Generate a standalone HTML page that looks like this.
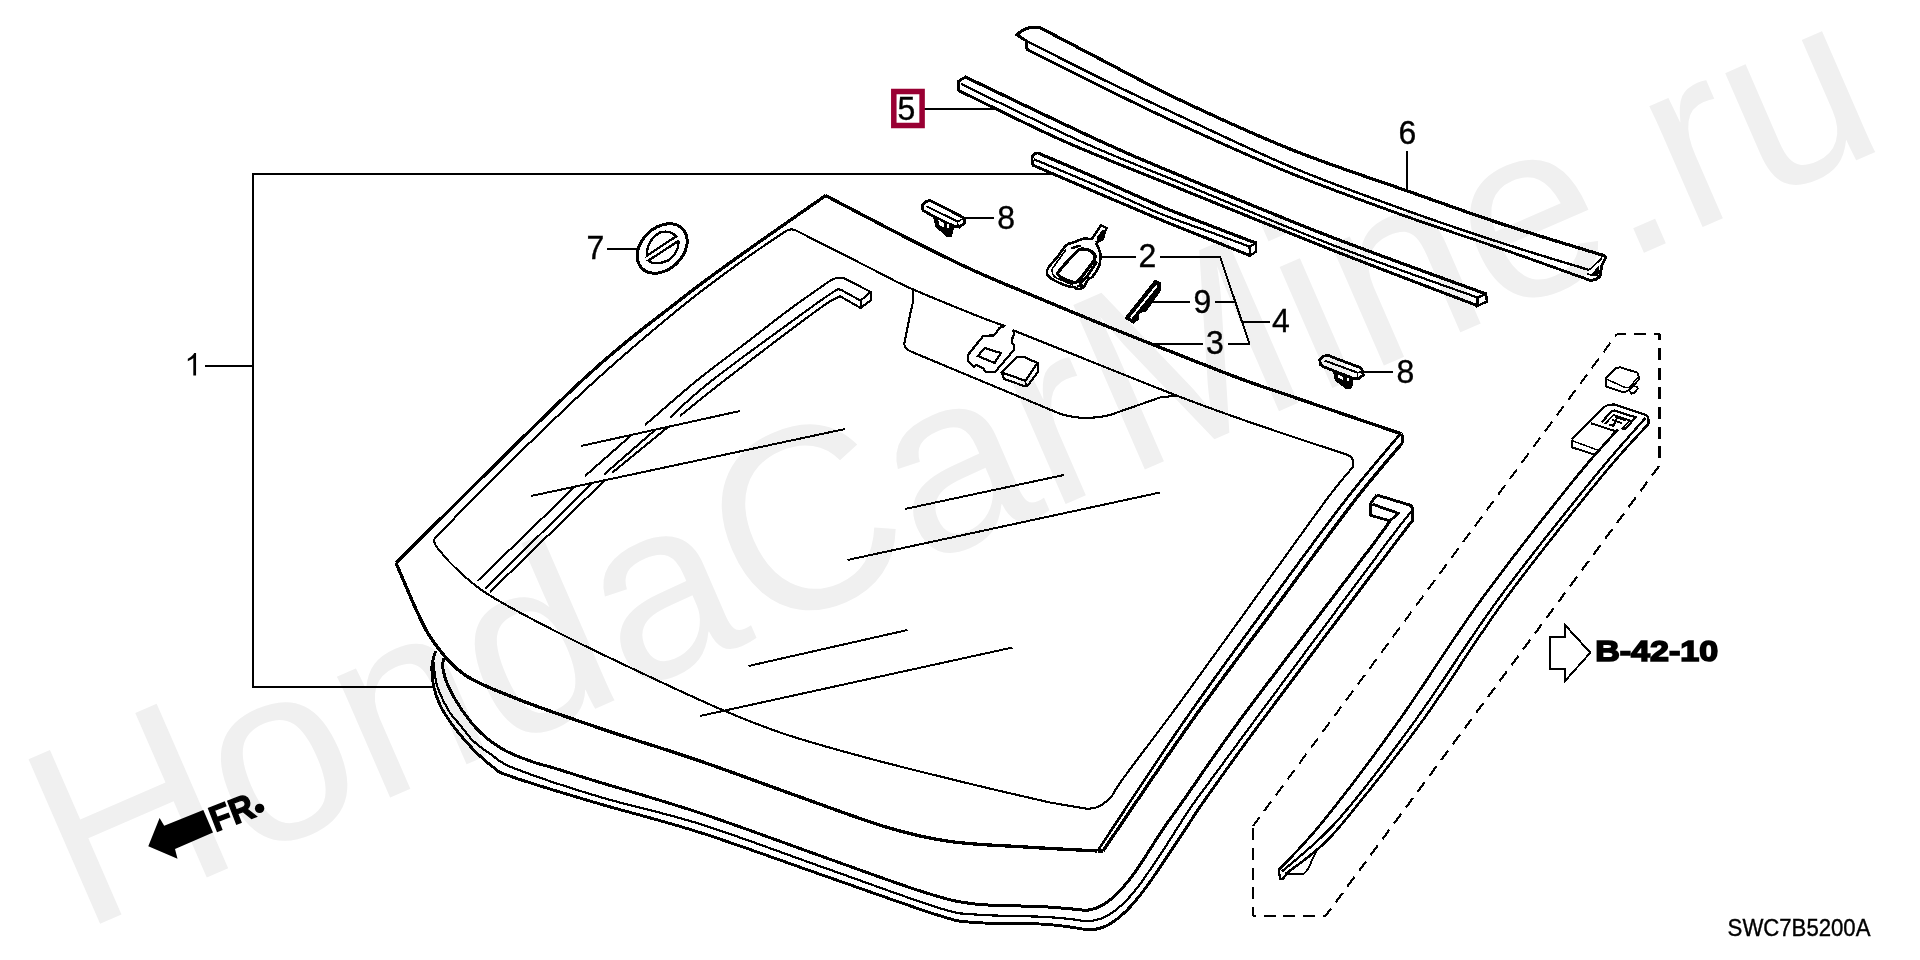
<!DOCTYPE html>
<html><head><meta charset="utf-8"><title>Windshield parts diagram</title>
<style>
html,body{margin:0;padding:0;background:#fff;}
body{width:1920px;height:960px;overflow:hidden;font-family:"Liberation Sans",sans-serif;}
svg{will-change:transform;display:block;position:absolute;left:0;top:0;}
svg text{font-family:"Liberation Sans",sans-serif;}
</style></head><body>
<svg width="1920" height="960" viewBox="0 0 1920 960">
<rect width="1920" height="960" fill="#ffffff"/>
<!-- watermark -->
<g font-size="250" fill="#f0f0f0" transform="translate(81.3 932) rotate(-23.5)">
<text transform="scale(1 1.043)">H</text><text x="180.5">onda</text>
<text transform="translate(736.5 0) scale(1 1.043)">C</text><text x="917">ar</text>
<text transform="translate(1139.25 0) scale(1 1.043)">M</text><text x="1347.5">ine.ru</text>
</g>
<g fill="none" stroke="#000" stroke-linecap="butt" stroke-linejoin="miter" shape-rendering="crispEdges">
<path d="M1051.0 174.0 L253.0 174.0 L253.0 687.0 L432.5 687.0" stroke-width="2.00" />
<path d="M205.0 366.0 L253.0 366.0" stroke-width="2.00" />
<path d="M825.6 195.6 C839.7 202.9 885.5 227.1 910.0 239.5 C934.5 251.9 952.5 260.8 972.5 270.0 C992.5 279.2 1007.1 284.9 1030.0 294.5 C1052.9 304.1 1087.0 318.2 1110.0 327.5 C1133.0 336.8 1145.7 341.8 1168.0 350.5 C1190.3 359.2 1220.9 371.6 1243.8 380.0 C1266.6 388.4 1278.8 392.0 1305.0 401.0 C1331.2 410.0 1385.2 428.3 1401.2 433.8" stroke-width="3.30" />
<path d="M825.6 195.6 C811.3 205.6 764.3 238.2 740.0 255.6 C715.7 273.0 706.2 279.3 680.0 300.0 C653.8 320.7 629.8 336.2 582.5 380.0 C535.2 423.8 427.1 532.5 396.0 563.0" stroke-width="3.30" />
<path d="M396.0 563.0 C399.6 571.2 411.2 599.2 417.5 612.5 C423.8 625.8 426.1 632.1 434.0 642.5 C441.9 652.9 450.7 665.4 465.0 675.0 C479.3 684.6 496.7 690.8 520.0 700.0 C543.3 709.2 575.0 719.8 605.0 730.0 C635.0 740.2 667.5 749.8 700.0 761.0 C732.5 772.2 768.8 785.9 800.0 797.0 C831.2 808.1 862.5 820.1 887.5 827.5 C912.5 834.9 927.1 838.2 950.0 841.5 C972.9 844.8 1000.4 845.4 1025.0 847.0 C1049.6 848.6 1085.4 850.3 1097.5 851.0" stroke-width="3.30" />
<path d="M1401.2 433.8 L1402.3 436.0 L1402.3 443.0" stroke-width="3.30" />
<path d="M1399.4 435.0 C1390.4 445.8 1367.2 472.2 1345.6 500.0 C1324.0 527.8 1296.8 565.3 1270.0 602.0 C1243.2 638.7 1213.8 678.5 1185.0 720.0 C1156.2 761.5 1112.1 829.2 1097.5 851.0" stroke-width="2.60" />
<path d="M1402.3 443.0 C1394.4 452.5 1375.7 473.2 1355.0 500.0 C1334.3 526.8 1305.1 567.3 1278.0 604.0 C1250.9 640.7 1221.7 678.8 1192.5 720.0 C1163.3 761.2 1117.9 829.2 1103.0 851.0" stroke-width="3.30" />
<path d="M1097.5 851.0 L1103.0 851.0" stroke-width="3.30" />
<path d="M435.5 537.5 C447.9 524.9 483.2 488.2 510.0 462.0 C536.8 435.8 567.7 405.7 596.0 380.0 C624.3 354.3 656.0 327.6 680.0 308.0 C704.0 288.4 722.3 275.3 740.0 262.5 C757.7 249.7 778.3 236.2 786.0 231.0 Q790 228.5 795 230" stroke-width="2.10" />
<path d="M795.0 230.0 C807.5 236.3 851.0 258.4 870.0 268.0 C889.0 277.6 891.2 279.7 908.8 287.5 C926.2 295.3 958.9 308.5 975.0 315.0 C991.1 321.5 1000.3 324.4 1005.4 326.2" stroke-width="2.10" />
<path d="M1012.5 330.0 C1022.1 333.8 1043.3 342.3 1070.0 353.0 C1096.7 363.7 1144.2 383.0 1172.5 394.0 C1200.8 405.0 1218.3 411.1 1240.0 418.8 C1261.7 426.4 1284.8 434.1 1302.5 440.0 C1320.2 445.9 1339.0 452.0 1346.2 454.4 Q1356 458 1352.5 467.5" stroke-width="2.10" />
<path d="M1352.5 467.5 C1348.1 472.9 1342.7 477.9 1326.2 500.0 C1309.8 522.1 1278.4 566.2 1254.0 600.0 C1229.6 633.8 1201.5 673.2 1180.0 702.5 C1158.5 731.8 1136.2 760.6 1125.0 776.0 C1113.8 791.4 1114.6 791.8 1112.5 795.0 Q1099 812 1082.5 808 L1050 802.5" stroke-width="2.10" />
<path d="M1050.0 802.5 C1037.5 799.6 1004.2 792.1 975.0 785.0 C945.8 777.9 906.2 768.3 875.0 760.0 C843.8 751.7 812.9 743.3 787.5 735.0 C762.1 726.7 748.8 721.2 722.5 710.0 C696.2 698.8 657.9 680.7 630.0 667.5 C602.1 654.3 578.8 643.2 555.0 631.0 C531.2 618.8 504.2 604.6 487.5 594.0 C470.8 583.4 462.9 574.7 455.0 567.5 C447.1 560.3 442.5 553.8 440.0 551.0 Q431.5 541.5 435.5 537.5" stroke-width="2.10" />
<path d="M912.5 289.5 Q914 292 913 302 L910 315 L904.5 342.5 Q903 348 912 352 L1060 413.75 Q1085 421.5 1110 415 L1160 397.5 L1177.5 395.5" stroke-width="2.10" />
<path d="M1005.4 326.2 L1001.7 326.7 L999.2 328.3 L994.2 335.4 L983.3 335.8 L967.9 355.0 L967.9 361.2 L973.8 366.7 L976.7 365.0 L983.3 368.3 L984.2 370.4 L986.7 372.1 L995.0 372.1 L1014.2 349.6 L1014.2 345.4 L1012.1 342.5 L1012.5 337.5 L1014.2 334.2 L1013.3 330.0" stroke-width="2.20" />
<path d="M984.6 348.0 L1000.8 353.0 L994.6 363.0 L978.0 356.0 Z" stroke-width="2.20" />
<path d="M1017.5 356.7 L1023.3 356.7 L1037.5 363.0 L1025.4 380.8 L1002.0 372.5 Z" stroke-width="2.20" />
<path d="M1002.0 372.5 L1004.2 379.2 L1025.0 386.2 L1027.5 385.8 L1038.0 371.7 L1037.5 363.0" stroke-width="2.20" />
<path d="M1025.4 380.8 L1026.0 386.0" stroke-width="1.80" />
<path d="M581.0 446.0 L740.0 411.0" stroke-width="2.00" />
<path d="M531.0 496.0 L845.0 429.0" stroke-width="2.00" />
<path d="M905.0 509.0 L1063.8 475.0" stroke-width="2.00" />
<path d="M847.5 560.0 L1160.0 492.5" stroke-width="2.00" />
<path d="M748.5 666.0 L907.5 630.0" stroke-width="2.00" />
<path d="M700.0 716.0 L1012.5 647.5" stroke-width="2.00" />
<path d="M828.5 281.8 C821.9 286.5 803.2 299.3 788.8 310.0 C774.3 320.7 757.2 334.3 742.0 346.0 C726.8 357.7 713.7 366.8 697.5 380.0 C681.3 393.2 653.8 417.5 645.0 425.0" stroke-width="2.10" />
<path d="M836.2 290.0 C831.5 293.3 828.1 295.0 807.5 310.0 C786.9 325.0 735.4 362.1 712.5 380.0 C689.6 397.9 677.1 411.2 670.0 417.5" stroke-width="2.10" />
<path d="M838.8 296.9 C835.2 299.1 836.5 296.1 817.5 310.0 C798.5 323.9 747.9 362.3 725.0 380.0 C702.1 397.7 687.5 410.0 680.0 416.0" stroke-width="2.10" />
<path d="M631.0 435.5 L585.0 476.0" stroke-width="2.10" />
<path d="M655.0 430.0 L604.0 474.5" stroke-width="2.10" />
<path d="M667.5 427.5 L612.5 472.5" stroke-width="2.10" />
<path d="M574.0 487.5 L477.5 581.0" stroke-width="2.10" />
<path d="M592.5 482.5 L485.0 589.0" stroke-width="2.10" />
<path d="M605.0 480.0 L490.0 592.0" stroke-width="2.10" />
<path d="M828.5 281.8 Q834 278.2 837 278.2 L844.6 278.4 L870.6 291.9 L871.25 300 L860.6 308 L860.6 300.6" stroke-width="2.10" />
<path d="M836.25 290 Q838.5 288.8 841.25 290 L860.6 300.6" stroke-width="2.10" />
<path d="M838.75 296.9 Q840 296 841.25 296.9 L860.6 308" stroke-width="2.10" />
<path d="M860.6 300.6 L870.6 291.9" stroke-width="2.10" />
<path d="M443.6 658.4 C443.5 660.0 442.1 663.4 442.8 667.9 C443.5 672.4 444.8 678.6 447.9 685.4 C450.9 692.2 455.8 701.0 461.1 708.8 C466.5 716.6 472.9 725.3 480.0 732.1 C487.1 738.9 494.9 744.7 503.4 749.6 C511.9 754.5 522.4 758.1 531.1 761.3 C539.9 764.5 545.8 765.5 555.9 768.6 C566.0 771.7 568.0 772.6 592.0 780.0 C616.0 787.4 661.2 800.1 700.0 813.0 C738.8 825.9 787.5 844.2 825.0 857.5 C862.5 870.8 900.0 884.8 925.0 892.5 C950.0 900.2 955.8 901.7 975.0 904.0 C994.2 906.3 1024.3 905.7 1040.0 906.5 C1055.7 907.3 1061.2 908.1 1069.2 908.7 C1077.2 909.3 1082.5 910.7 1088.1 910.1 C1093.7 909.5 1097.8 907.8 1102.7 905.0 C1107.6 902.2 1112.2 898.5 1117.3 893.4 C1122.4 888.3 1128.3 881.2 1133.4 874.4 C1138.5 867.6 1142.9 860.3 1148.0 852.5 C1153.1 844.7 1158.0 836.5 1164.0 827.7 C1170.0 819.0 1171.0 818.0 1183.7 800.0 C1196.4 782.0 1209.2 761.7 1240.0 720.0 C1270.8 678.3 1343.8 583.2 1368.8 550.0 C1393.8 516.8 1386.5 525.7 1390.0 520.8" stroke-width="3.00" />
<path d="M434.3 662.0 C434.4 664.2 434.0 670.2 434.8 675.0 C435.6 679.8 436.4 684.8 438.9 691.0 C441.4 697.2 446.1 706.6 449.7 712.3 C453.3 718.0 456.4 720.4 460.3 725.2 C464.2 730.0 468.1 736.1 473.3 741.0 C478.5 745.9 484.6 750.2 491.5 754.8 C498.4 759.4 496.9 761.6 515.0 768.6 C533.1 775.6 569.2 787.8 600.0 797.0 C630.8 806.2 662.5 812.2 700.0 824.0 C737.5 835.8 785.4 854.1 825.0 868.0 C864.6 881.9 912.5 899.8 937.5 907.5 C962.5 915.2 957.9 913.0 975.0 914.5 C992.1 916.0 1024.3 916.0 1040.0 916.7 C1055.7 917.4 1061.2 918.2 1069.2 918.9 C1077.2 919.6 1082.0 921.5 1088.1 921.1 C1094.2 920.7 1100.0 919.4 1105.6 916.7 C1111.2 914.0 1116.6 909.6 1121.7 905.0 C1126.8 900.4 1131.4 895.1 1136.3 889.0 C1141.2 882.9 1146.0 875.6 1150.9 868.6 C1155.8 861.6 1160.7 854.1 1165.5 846.7 C1170.3 839.3 1174.9 831.8 1180.0 824.0 C1185.1 816.2 1183.5 817.3 1196.0 800.0 C1208.5 782.7 1224.1 761.7 1255.0 720.0 C1285.9 678.3 1355.5 584.7 1381.5 550.0 C1407.5 515.3 1406.1 518.1 1411.0 511.7" stroke-width="2.20" />
<path d="M435.5 651.2 C434.9 653.8 432.1 660.3 431.9 666.5 C431.7 672.7 432.2 680.9 434.1 688.4 C436.1 695.9 438.4 703.0 443.6 711.7 C448.8 720.5 457.4 731.9 465.4 740.9 C473.4 749.9 483.8 760.0 491.7 766.0 C499.6 772.0 494.4 770.7 512.5 777.0 C530.5 783.3 568.8 794.8 600.0 804.0 C631.2 813.2 662.5 820.5 700.0 832.5 C737.5 844.5 785.4 862.2 825.0 876.0 C864.6 889.8 912.5 907.2 937.5 915.0 C962.5 922.8 957.9 921.0 975.0 922.5 C992.1 924.0 1024.3 923.3 1040.0 924.0 C1055.7 924.7 1060.7 925.9 1069.2 926.9 C1077.7 927.9 1084.7 930.0 1091.0 929.8 C1097.3 929.6 1101.7 928.2 1107.1 925.5 C1112.5 922.8 1117.8 918.7 1123.2 913.8 C1128.6 908.9 1133.9 902.9 1139.2 896.3 C1144.5 889.7 1149.9 882.1 1155.2 874.4 C1160.5 866.7 1166.0 858.3 1171.3 850.3 C1176.6 842.3 1181.7 834.7 1187.3 826.3 C1192.9 817.9 1192.3 817.7 1204.8 800.0 C1217.3 782.3 1231.6 761.7 1262.5 720.0 C1293.4 678.3 1364.9 583.3 1390.0 550.0 C1415.1 516.7 1409.1 525.0 1412.9 520.0" stroke-width="2.90" />
<path d="M1376.7 495 L1409.5 505 Q1412.9 506.3 1412.9 510 L1412.9 520.5" stroke-width="2.90" />
<path d="M1376.7 495.0 L1370.8 503.3 L1370.8 515.4 L1390.0 520.8 L1398.3 513.3 L1372.5 504.2" stroke-width="2.80" />
<path d="M1038.8 27.0 C1049.0 32.3 1076.5 46.8 1100.0 59.0 C1123.5 71.2 1147.9 84.8 1180.0 100.0 C1212.1 115.2 1254.6 134.8 1292.5 150.0 C1330.4 165.2 1372.1 178.5 1407.5 191.0 C1442.9 203.5 1472.4 214.3 1505.0 225.0 C1537.6 235.7 1586.9 250.3 1603.3 255.4" stroke-width="3.20" />
<path d="M1026.0 40.6 C1038.3 46.8 1074.3 65.4 1100.0 78.0 C1125.7 90.6 1147.9 101.1 1180.0 116.0 C1212.1 130.9 1255.0 151.8 1292.5 167.5 C1330.0 183.2 1369.6 197.2 1405.0 210.0 C1440.4 222.8 1474.3 234.0 1505.0 244.0 C1535.7 254.0 1575.2 265.7 1589.2 270.0" stroke-width="2.40" />
<path d="M1026.0 48.8 C1038.3 55.0 1074.3 73.4 1100.0 86.0 C1125.7 98.6 1147.9 109.8 1180.0 124.5 C1212.1 139.2 1255.0 158.8 1292.5 174.0 C1330.0 189.2 1369.6 203.3 1405.0 216.0 C1440.4 228.7 1474.3 239.3 1505.0 250.0 C1535.7 260.7 1575.2 275.0 1589.2 280.0" stroke-width="2.80" />
<path d="M1038.75 27 L1032.5 27 Q1022 29 1017 35 L1026 40.6 L1026 48.75" stroke-width="3.00" />
<path d="M1603.3 255.4 Q1606 256.5 1605.4 258.3 L1601.7 265.8 L1600 275.8 Q1597 280 1593.3 280 L1589.2 280" stroke-width="3.00" />
<path d="M1591.7 275.6 L1598.4 266.6 L1599.8 272.5 L1597 276.5 Z" fill="#000" stroke="none"/>
<path d="M1589.2 270.0 L1602.0 258.0" stroke-width="1.80" />
<path d="M1587.0 273.5 L1592.0 275.5 L1598.5 266.5" stroke-width="1.60" />
<path d="M965.6 77.1 C988.2 87.8 1065.3 125.1 1101.0 141.5 C1136.7 157.9 1141.8 159.7 1180.0 175.5 C1218.2 191.3 1279.0 216.8 1330.0 236.5 C1381.0 256.2 1460.0 284.4 1486.0 294.0" stroke-width="3.20" />
<path d="M961.0 84.0 C981.0 93.6 1044.5 125.1 1081.0 141.5 C1117.5 157.9 1138.5 165.4 1180.0 182.5 C1221.5 199.6 1280.4 224.8 1330.0 244.0 C1379.6 263.2 1452.9 288.6 1477.5 297.5" stroke-width="2.20" />
<path d="M958.8 90.6 C976.3 99.0 1027.1 124.8 1064.0 141.2 C1100.9 157.5 1135.7 170.7 1180.0 188.7 C1224.3 206.7 1280.4 229.7 1330.0 249.2 C1379.6 268.7 1452.9 296.3 1477.5 305.7" stroke-width="3.00" />
<path d="M966.5 76.5 L958.8 81.0 L958.8 91.0" stroke-width="2.80" />
<path d="M1477.5 297.5 L1486.0 294.0 L1487.0 301.5 L1477.5 306.0 L1477.5 297.5" stroke-width="2.40" />
<path d="M1038.5 153.3 C1048.8 157.7 1079.8 170.7 1100.0 179.5 C1120.2 188.3 1141.7 198.3 1160.0 206.0 C1178.3 213.7 1194.0 219.3 1210.0 225.5 C1226.0 231.7 1248.2 240.1 1255.8 243.0" stroke-width="3.20" />
<path d="M1034.0 159.3 C1045.0 163.9 1079.0 178.0 1100.0 187.0 C1121.0 196.0 1141.7 206.0 1160.0 213.5 C1178.3 221.0 1195.1 226.5 1210.0 232.0 C1224.9 237.5 1243.0 244.2 1249.6 246.6" stroke-width="2.20" />
<path d="M1032.5 165.0 C1043.8 169.8 1078.8 184.9 1100.0 194.0 C1121.2 203.1 1141.7 211.9 1160.0 219.5 C1178.3 227.1 1195.0 233.5 1210.0 239.5 C1225.0 245.5 1243.3 252.9 1250.0 255.6" stroke-width="3.00" />
<path d="M1039 153.3 Q1034 152 1032 157.5 L1032.3 165" stroke-width="2.80" />
<path d="M1249.6 246.6 L1255.8 243.0 L1255.8 251.8 L1250.0 255.6 L1249.6 246.6" stroke-width="2.40" />
<path d="M918.0 109.0 L998.0 109.0" stroke-width="2.00" />
<path d="M1407.0 151.0 L1407.0 191.0" stroke-width="2.00" />
<path d="M607.0 248.8 L637.5 248.8" stroke-width="2.00" />
<path d="M963.0 218.3 L993.8 218.3" stroke-width="2.00" />
<path d="M1362.0 372.0 L1392.5 372.0" stroke-width="2.00" />
<path d="M1100.8 256.6 L1136.0 256.6" stroke-width="2.00" />
<path d="M1160.0 256.6 L1220.0 256.6 L1249.5 344.0" stroke-width="2.00" />
<path d="M1151.7 302.0 L1190.4 302.0" stroke-width="2.00" />
<path d="M1215.0 302.0 L1234.5 302.0" stroke-width="2.00" />
<path d="M1151.0 343.8 L1203.0 343.8" stroke-width="2.00" />
<path d="M1227.5 343.8 L1250.0 343.8" stroke-width="2.00" />
<path d="M1242.5 322.0 L1270.0 322.0" stroke-width="2.00" />
<g transform="translate(662.2 248.5) rotate(-44)"><ellipse cx="0" cy="0" rx="28.3" ry="20.8" stroke-width="3.0"/></g>
<path d="M646.7 255.8 Q647 240 660 232.5 Q670 229.5 676 236.5 Z" stroke-width="2.30" />
<path d="M648.3 260.6 L678.4 241 Q679.5 252 668 260.5 Q655 266 648.3 260.6 Z" stroke-width="2.30" />
<path d="M930 200.4 L925.4 201.7 L922.5 205 L923 210.4 L934.2 216.7 L955 226.7 L959.2 227.1 L964.2 223.3 L964.2 218.3 L960 215.8 Z" stroke-width="2.80" />
<path d="M926.3 206.3 L957.9 221.6" stroke-width="2.00" />
<path d="M957.9 221.6 L962.8 218.8" stroke-width="1.60" />
<path d="M957.6 221.8 L957.8 226.5" stroke-width="1.60" />
<path d="M934.2 216.7 L936.7 226.7 L946.7 235.4 L950.8 235.4 L953.3 227.5 L953.3 225.5 Z" fill="#000" stroke="#000" stroke-width="2.2"/>
<path d="M938.3 219.4 L944.2 223.3 L944.6 227.5 L939.2 225 Z" fill="#fff" stroke="none"/>
<path d="M946.8 223.5 L949.2 224.4 L949.2 228.3 L947.1 227.5 Z" fill="#fff" stroke="none"/>
<path d="M1327.9 355.4 L1323.3 356.25 L1319.6 360 L1320.8 365 L1323.3 366.7 L1354.2 378.75 L1359.2 378.3 L1363.3 375 L1362 369.6 L1360 367.5 Z" stroke-width="2.80" />
<path d="M1324.6 360.6 L1357.9 372.8" stroke-width="2.00" />
<path d="M1357.9 372.8 L1361.3 371.5" stroke-width="1.60" />
<path d="M1357.5 373.0 L1357.3 378.0" stroke-width="1.60" />
<path d="M1334.2 371.5 L1335.8 380 L1346.7 388.3 L1350 388.3 L1351.7 385 L1352.5 378.3 Z" fill="#000" stroke="#000" stroke-width="2.2"/>
<path d="M1337.5 374.2 L1343.3 377.5 L1343.3 380 L1338.3 377.5 Z" fill="#fff" stroke="none"/>
<path d="M1346.7 377.5 L1348.75 377.5 L1348.75 380.8 L1347.1 380.8 Z" fill="#fff" stroke="none"/>
<path d="M1091.7 239.2 C1090.3 239.1 1086.1 238.3 1083.3 238.8 C1080.5 239.2 1077.8 241.0 1075.0 242.0 C1072.2 243.0 1069.6 242.6 1066.7 245.0 C1063.8 247.4 1060.6 252.8 1057.5 256.7 C1054.4 260.6 1049.7 265.2 1048.0 268.3 C1046.3 271.4 1046.3 272.9 1047.5 275.0 C1048.7 277.1 1051.8 279.0 1055.0 280.8 C1058.2 282.6 1063.4 284.7 1066.7 285.8 C1070.0 286.9 1073.3 286.9 1075.0 287.5 C1076.7 288.1 1075.3 289.2 1076.7 289.2 C1078.1 289.2 1081.4 289.2 1083.3 287.5 C1085.2 285.8 1086.8 281.0 1088.3 279.2 C1089.8 277.4 1090.7 278.9 1092.5 276.7 C1094.3 274.5 1097.9 269.1 1099.2 265.8 C1100.5 262.5 1100.3 258.9 1100.4 256.7 C1100.5 254.5 1100.5 254.3 1100.0 252.5 C1099.5 250.7 1098.2 247.5 1097.5 245.8 C1096.8 244.1 1096.1 243.1 1095.8 242.5" stroke-width="2.60" />
<path d="M1095.8 242.5 L1103.0 239.0 L1104.0 234.0 L1106.7 228.0 L1100.8 225.4 L1091.7 239.2" stroke-width="2.40" />
<path d="M1102.8 230.5 L1104.5 231.3 L1103 235 L1102 239 L1097.8 241 L1097.3 237.5 Z" fill="#000" stroke="#000" stroke-width="1.2"/>
<path d="M1080.0 249.2 C1081.9 248.9 1085.9 249.2 1088.3 250.0 C1090.7 250.8 1093.2 252.7 1094.2 254.2 C1095.2 255.7 1095.6 256.8 1094.6 259.2 C1093.6 261.6 1090.7 265.0 1088.3 268.3 C1085.9 271.6 1082.2 276.8 1080.0 279.2 C1077.8 281.6 1077.2 282.4 1075.0 282.5 C1072.8 282.6 1069.5 281.2 1066.7 280.0 C1063.9 278.8 1059.6 276.4 1058.3 275.0 C1057.0 273.6 1057.6 273.5 1058.8 271.7 C1059.9 269.9 1062.8 266.7 1065.0 264.2 C1067.2 261.7 1069.8 258.8 1071.7 256.7 C1073.7 254.6 1075.3 252.9 1076.7 251.7 C1078.1 250.4 1078.1 249.5 1080.0 249.2 Z" stroke-width="3.20" />
<path d="M1066 249.5 L1052.5 268.5 Q1051 275 1056.5 278 L1073 285" stroke-width="1.60" />
<path d="M1071.5 248.5 L1076.5 246.5 L1081 246" stroke-width="2.40" />
<path d="M1079 284 Q1086 279 1090 272 L1097 261.5" stroke-width="3.00" />
<path d="M1077 286.5 L1083 285" stroke-width="2.20" />
<path d="M1155.4 280.4 L1160.4 283 L1160 290.8 L1145.8 310.8 L1139 312.5 L1138 319 L1133.75 323 L1125.4 318 Z" fill="#000" stroke="#000" stroke-width="1.6"/>
<path d="M1130.6 318.2 L1156.9 285.6" stroke="#fff" stroke-width="2.0"/>
<path d="M1617.0 334.0 L1659.5 334.0" stroke-width="2.50" stroke-dasharray="11.90 7.78" stroke-dashoffset="2.50"/>
<path d="M1659.5 334.0 L1659.5 465.5" stroke-width="2.80" stroke-dasharray="11.90 7.78" stroke-dashoffset="5.64"/>
<path d="M1659.5 465.5 L1325.5 916.0" stroke-width="2.20" stroke-dasharray="11.90 7.78" stroke-dashoffset="19.06"/>
<path d="M1325.5 916.0 L1253.0 916.0" stroke-width="2.20" stroke-dasharray="11.90 7.78" stroke-dashoffset="9.15"/>
<path d="M1253.0 916.0 L1253.0 826.1" stroke-width="2.30" stroke-dasharray="11.90 7.78" stroke-dashoffset="2.93"/>
<path d="M1253.0 826.1 L1617.0 334.0" stroke-width="2.00" stroke-dasharray="11.90 7.78" stroke-dashoffset="1.0"/>
<path d="M1605.6 378.75 L1616 368 L1620 367.3 L1637 372.5 Q1638.6 373.5 1638.5 376 L1638.5 380 L1629 390 L1623.75 392.5 L1605.6 386.25 Z" stroke-width="2.00" />
<path d="M1605.6 378.75 L1625 387.5 L1629.5 387.5 L1638 377" stroke-width="1.50" />
<path d="M1629 390 L1631.5 393.6 L1634.5 393 L1637.7 388.7 L1636.8 386.8 L1634 386.2" stroke-width="1.80" />
<path d="M1571.9 439.5 L1604 407 Q1608 404 1614.6 404.6 L1645.8 415 Q1648.4 416 1648.4 419 L1648.4 423.9" stroke-width="2.20" />
<path d="M1571.9 439.5 L1571.9 447.3 L1595.8 455.0" stroke-width="2.00" />
<path d="M1573.0 441.0 L1597.5 450.0" stroke-width="1.40" />
<path d="M1591.0 423.3 L1616.5 431.5" stroke-width="2.00" />
<path d="M1601.5 422.3 L1612 411 L1614.6 410.5 L1635.5 417.3 L1626 428.3 L1622.3 429 " stroke-width="2.20" />
<path d="M1605 424 L1613.5 415 L1630 420.5 L1622 429" stroke-width="1.70" />
<path d="M1612 420 L1622 423 M1615 417 L1626 420.5 M1617 418 L1613 427 M1609 424.5 L1613 425.7" stroke-width="2.00" />
<path d="M1617.7 429.6 C1610.4 438.0 1596.5 451.6 1573.8 480.0 C1551.0 508.4 1510.1 560.0 1481.0 600.0 C1451.9 640.0 1425.5 683.3 1399.4 720.0 C1373.3 756.7 1344.3 795.0 1324.2 820.0 C1304.1 845.0 1286.2 861.9 1278.6 870.3" stroke-width="2.60" />
<path d="M1645.3 418.0 C1636.4 428.3 1616.5 449.7 1591.9 480.0 C1567.3 510.3 1527.1 560.0 1497.8 600.0 C1468.4 640.0 1442.2 683.3 1415.6 720.0 C1389.0 756.7 1360.3 794.8 1338.0 820.0 C1315.7 845.2 1291.3 862.9 1282.0 871.5" stroke-width="2.30" />
<path d="M1648.4 423.9 C1640.1 433.2 1622.7 450.6 1598.8 480.0 C1574.8 509.4 1534.0 560.0 1504.7 600.0 C1475.4 640.0 1449.6 683.3 1423.0 720.0 C1396.4 756.7 1362.9 798.5 1345.3 820.0 C1327.7 841.5 1327.6 840.2 1317.6 849.2 C1307.6 858.2 1290.8 869.9 1285.5 874.0" stroke-width="2.50" />
<path d="M1317.6 849.2 Q1314 856 1311 862.3 Q1308.5 870 1303.8 873.6 L1285.5 874" stroke-width="1.90" />
<path d="M1278.6 870.3 L1280.4 879.0 L1282.6 879.0 L1286.5 874.3" stroke-width="2.40" />
<path d="M1550.0 636.8 L1565.0 636.8 L1565.0 625.0 L1590.3 652.7 L1565.0 681.0 L1565.0 668.8 L1550.0 668.8 Z" stroke-width="2.00" />
</g>
<!-- highlighted callout 5 -->
<rect x="893.8" y="91.5" width="28.3" height="34" fill="#fff" stroke="#990033" stroke-width="5.5"/>
<g fill="#000" stroke="#000" stroke-width="0.35" font-size="32">
<text transform="translate(1138.50 267.00) scale(1 1.045)">2</text>
<text transform="translate(1206.00 354.00) scale(1 1.045)">3</text>
<text transform="translate(1272.00 331.90) scale(1 1.045)">4</text>
<text transform="translate(897.50 120.00) scale(1 1.045)">5</text>
<text transform="translate(1398.50 144.00) scale(1 1.045)">6</text>
<text transform="translate(586.50 259.00) scale(1 1.045)">7</text>
<text transform="translate(997.35 229.00) scale(1 1.045)">8</text>
<text transform="translate(1396.50 382.80) scale(1 1.045)">8</text>
<text transform="translate(1193.50 312.50) scale(1 1.045)">9</text>
<path stroke="none" transform="translate(184.4 375.5) scale(0.01528 -0.01528)" d="M763 0H583V1147Q518 1085 412.5 1023T223 930V1104Q373 1174.5 485.5 1275T644 1472H763Z"/>
</g>
<text transform="translate(1727.6 936) scale(1.008 1.09)" font-size="22" fill="#000" stroke="#000" stroke-width="0.35">SWC7B5200A</text>
<text x="1595.2" y="661.2" font-size="29" font-weight="bold" fill="#000" stroke="#000" stroke-width="1.6" textLength="123" lengthAdjust="spacingAndGlyphs">B-42-10</text>
<!-- FR arrow -->
<path d="M148.3 846.25 L159.6 818 L164.2 825.8 L203.3 810 L213 832.5 L175 849 L177.5 858.75 Z" fill="#000"/>
<g transform="translate(215.2 832.3) rotate(-21)"><text x="0" y="0" font-size="36" font-weight="bold" fill="#000" stroke="#000" stroke-width="1.3" textLength="45" lengthAdjust="spacingAndGlyphs">FR</text></g>
<circle cx="259.6" cy="808.4" r="4.7" fill="#000"/>
</svg>
</body></html>
